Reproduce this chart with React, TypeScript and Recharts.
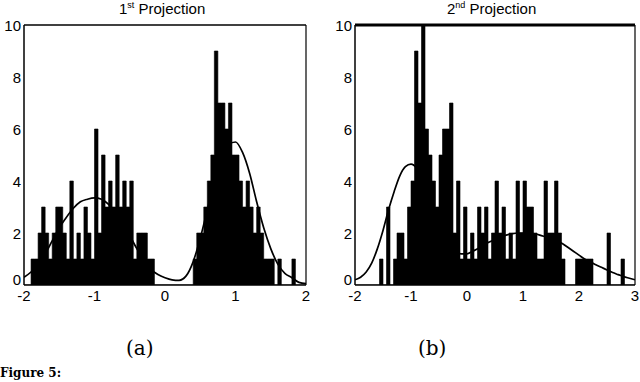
import React from "react";
import { ComposedChart, Area, Line, XAxis, YAxis, ReferenceLine } from "recharts";

// ---- Panel (a): 1st projection ----
const leftBinStart = -2;
const leftBinWidth = 0.05;
const leftCounts = [
  0, 0, 1, 1, 2, 3, 2, 1, 2, 3,
  3, 2, 1, 4, 1, 2, 1, 3, 2, 1,
  6, 2, 5, 3, 4, 3, 5, 3, 4, 3,
  4, 1, 2, 2, 2, 1, 1, 0, 0, 0,
  0, 0, 0, 0, 0, 0, 0, 0, 1, 2,
  2, 3, 4, 5, 9, 7, 7, 6, 7, 5,
  5, 4, 3, 4, 3, 2, 3, 2, 1, 1,
  1, 0, 1, 0, 0, 0, 1, 0, 0, 0,
];
const leftCurveX = [
  -2.0, -1.9, -1.8, -1.7, -1.6, -1.5, -1.4, -1.3, -1.2, -1.1,
  -1.0, -0.9, -0.8, -0.7, -0.6, -0.5, -0.4, -0.3, -0.2, -0.1,
  0.0, 0.1, 0.2, 0.3, 0.4, 0.5, 0.6, 0.7, 0.8, 0.9,
  1.0, 1.1, 1.2, 1.3, 1.4, 1.5, 1.6, 1.7, 1.8, 1.9, 2.0,
];
const leftCurveY = [
  0.3, 0.5, 0.8, 1.2, 1.7, 2.2, 2.6, 2.95, 3.2, 3.3,
  3.35, 3.3, 3.1, 2.8, 2.4, 1.9, 1.4, 0.95, 0.6, 0.4,
  0.28, 0.2, 0.18, 0.35, 0.9, 1.8, 2.9, 4.0, 4.9, 5.4,
  5.5, 5.1, 4.3, 3.2, 2.2, 1.4, 0.8, 0.45, 0.28, 0.1, 0.05,
];
const leftXTicks = [-2, -1, 0, 1, 2];

// ---- Panel (b): 2nd projection ----
const rightBinStart = -2;
const rightBinWidth = 0.0625;
const rightCounts = [
  0, 0, 0, 0, 0, 0, 0, 1, 0, 3,
  0, 1, 2, 2, 1, 3, 4, 9, 7, 10,
  6, 5, 4, 3, 5, 6, 6, 7, 2, 4,
  1, 3, 1, 2, 1, 3, 2, 3, 1, 2,
  4, 2, 3, 1, 2, 1, 4, 2, 4, 3,
  3, 2, 1, 1, 4, 2, 2, 4, 2, 1,
  0, 0, 0, 1, 1, 1, 1, 1, 0, 0,
  0, 0, 2, 0, 0, 0, 1, 0, 0, 0,
];
const rightCurveX = [
  -2.0, -1.9, -1.8, -1.7, -1.6, -1.5, -1.4, -1.3, -1.2, -1.1,
  -1.0, -0.9, -0.8, -0.7, -0.6, -0.5, -0.4, -0.3, -0.2, -0.1,
  0.0, 0.1, 0.2, 0.3, 0.4, 0.5, 0.6, 0.7, 0.8, 0.9,
  1.0, 1.1, 1.2, 1.3, 1.4, 1.5, 1.6, 1.7, 1.8, 1.9,
  2.0, 2.1, 2.2, 2.3, 2.4, 2.5, 2.6, 2.7, 2.8, 2.9, 3.0,
];
const rightCurveY = [
  0.2, 0.3, 0.5, 0.85, 1.4, 2.1, 2.9, 3.6, 4.2, 4.55,
  4.65, 4.5, 4.1, 3.5, 2.8, 2.2, 1.7, 1.4, 1.25, 1.2,
  1.2, 1.3, 1.4, 1.55, 1.65, 1.75, 1.85, 1.92, 1.97, 2.0,
  2.0, 2.0, 1.97, 1.92, 1.85, 1.78, 1.7, 1.6, 1.45, 1.3,
  1.15, 1.0, 0.9, 0.78, 0.68, 0.58, 0.48, 0.4, 0.32, 0.26, 0.2,
];
const rightXTicks = [-2, -1, 0, 1, 2, 3];

const yTicks = [0, 2, 4, 6, 8, 10];

const toHist = (start: number, width: number, counts: number[]) => {
  const pts = counts.map((c, i) => ({ x: start + i * width, y: c }));
  pts.push({ x: start + counts.length * width, y: 0 });
  return pts;
};
const toCurve = (xs: number[], ys: number[]) => xs.map((x, i) => ({ x, y: ys[i] }));

const leftHist = toHist(leftBinStart, leftBinWidth, leftCounts);
const rightHist = toHist(rightBinStart, rightBinWidth, rightCounts);
const leftCurve = toCurve(leftCurveX, leftCurveY);
const rightCurve = toCurve(rightCurveX, rightCurveY);

const FONT = "Liberation Sans, Arial, sans-serif";

const tickStyle = {
  fill: "#000",
  fontSize: 15,
  fontFamily: FONT,
};

function YTick(props: any) {
  const { x, y, payload } = props;
  const lift = payload.value === 0 ? -6 : 0;
  return (
    <text
      x={x}
      y={y + lift}
      textAnchor="end"
      dominantBaseline="central"
      fill="#000"
      fontSize={15}
      fontFamily={FONT}
    >
      {payload.value}
    </text>
  );
}

function Panel(props: {
  hist: { x: number; y: number }[];
  curve: { x: number; y: number }[];
  xDomain: [number, number];
  xTicks: number[];
  yWidth: number;
  right: number;
  topWidth: number;
}) {
  const { hist, curve, xDomain, xTicks, yWidth, right, topWidth } = props;
  return (
    <ComposedChart width={320} height={310} margin={{ top: 25, right, bottom: 0, left: 0 }}>
      <XAxis
        type="number"
        dataKey="x"
        domain={xDomain}
        ticks={xTicks}
        allowDataOverflow
        height={25}
        tickSize={0}
        tickMargin={5}
        axisLine={{ stroke: "#000", strokeWidth: 1.5 }}
        tickLine={false}
        tick={tickStyle}
        interval={0}
      />
      <YAxis
        type="number"
        domain={[0, 10]}
        ticks={yTicks}
        allowDataOverflow
        width={yWidth}
        tickSize={0}
        tickMargin={3}
        axisLine={{ stroke: "#000", strokeWidth: 1.5 }}
        tickLine={false}
        tick={<YTick />}
        interval={0}
      />
      <Area
        data={hist}
        dataKey="y"
        type="stepAfter"
        fill="#000"
        fillOpacity={1}
        stroke="#000"
        strokeWidth={0.6}
        isAnimationActive={false}
      />
      <Line
        data={curve}
        dataKey="y"
        type="monotone"
        stroke="#000"
        strokeWidth={1.7}
        dot={false}
        isAnimationActive={false}
      />
      <ReferenceLine y={10} stroke="#000" strokeWidth={topWidth} />
      <ReferenceLine x={xDomain[1]} stroke="#000" strokeWidth={1.2} />
    </ComposedChart>
  );
}

const titleStyle: React.CSSProperties = {
  position: "absolute",
  top: 0,
  fontFamily: FONT,
  fontSize: 15,
  color: "#000",
  whiteSpace: "nowrap",
};
const supStyle: React.CSSProperties = { fontSize: 9, verticalAlign: "top", lineHeight: "10px" };
const capStyle: React.CSSProperties = {
  position: "absolute",
  top: 336,
  fontFamily: "DejaVu Serif, Liberation Serif, serif",
  fontSize: 20,
  color: "#000",
};

export default function App() {
  return (
    <div
      style={{
        position: "absolute",
        left: 0,
        top: 0,
        width: 640,
        height: 382,
        overflow: "hidden",
        background: "#fff",
      }}
    >
      <div style={{ position: "absolute", left: 0, top: 0 }}>
        <Panel
          hist={leftHist}
          curve={leftCurve}
          xDomain={[-2, 2]}
          xTicks={leftXTicks}
          yWidth={24}
          right={14}
          topWidth={1.5}
        />
      </div>
      <div style={{ position: "absolute", left: 320, top: 0 }}>
        <Panel
          hist={rightHist}
          curve={rightCurve}
          xDomain={[-2, 3]}
          xTicks={rightXTicks}
          yWidth={35}
          right={5}
          topWidth={3}
        />
      </div>
      <div style={{ ...titleStyle, left: 119 }}>
        1<span style={supStyle}>st</span> Projection
      </div>
      <div style={{ ...titleStyle, left: 447 }}>
        2<span style={supStyle}>nd</span> Projection
      </div>
      <div style={{ ...capStyle, left: 126 }}>(a)</div>
      <div style={{ ...capStyle, left: 418 }}>(b)</div>
      <div
        style={{
          position: "absolute",
          left: 0,
          top: 366,
          fontFamily: "DejaVu Serif, Liberation Serif, serif",
          fontWeight: "bold",
          fontSize: 12,
          lineHeight: "14px",
          color: "#000",
        }}
      >
        Figure 5:
      </div>
    </div>
  );
}
